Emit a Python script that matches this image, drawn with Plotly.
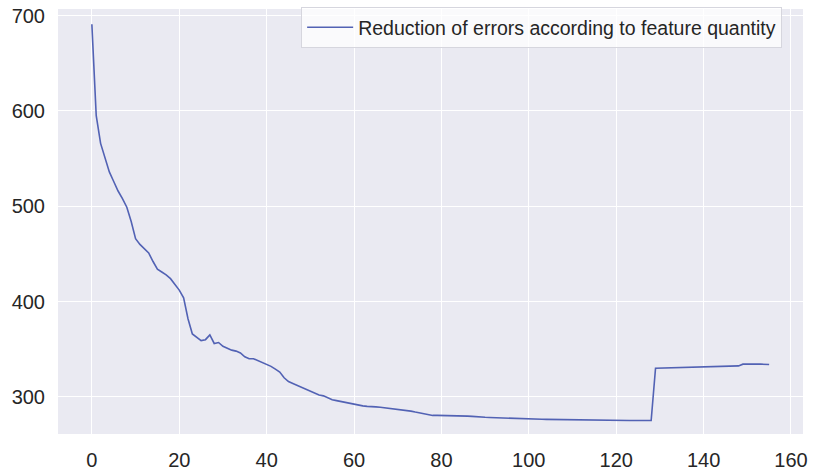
import plotly.graph_objects as go

feature_count = list(range(156))

errors = [
    691, 595, 566, 550, 536, 526, 516, 508, 499, 484,
    466, 460, 455, 451, 442, 434, 431, 428, 424, 418,
    412, 404, 382, 366, 362, 359, 360, 365, 356, 357,
    353, 351, 349, 348, 346, 342, 340, 340, 338, 336,
    334, 332, 329, 326, 320, 316, 314, 312, 310, 308,
    306, 304, 302, 301, 299, 297, 296, 295, 294, 293,
    292, 291, 290.5, 290, 290, 289.5, 289, 288.5, 288, 287.5,
    287, 286, 285.5, 285, 284, 283, 282, 281, 280.5, 280.5,
    280.5, 280.5, 280.3, 280.2, 280, 280, 279.8, 279.5, 279, 278.7,
    278.5, 278.3, 278.1, 278, 277.8, 277.6, 277.5, 277.3, 277.2, 277,
    277, 276.8, 276.7, 276.5, 276.4, 276.3, 276.2, 276, 276, 275.9,
    275.8, 275.7, 275.6, 275.5, 275.4, 275.3, 275.2, 275.2, 275.2, 275.2,
    275.2, 275.2, 275.2, 275.2, 275.2, 275.2, 275.2, 275.2, 275.2, 330,
    330.1, 330.2, 330.3, 330.4, 330.5, 330.6, 330.7, 330.8, 330.9, 331,
    331.1, 331.2, 331.3, 331.4, 331.5, 331.6, 331.7, 331.7, 332.5, 334.3,
    334.5, 334.5, 334.4, 334.3, 334.2, 334.0,
]

series_name = "Reduction of errors according to feature quantity"
x_ticks = [0, 20, 40, 60, 80, 100, 120, 140, 160]
y_ticks = [300, 400, 500, 600, 700]

font_family = "Liberation Sans, Arial, sans-serif"
text_color = "#262626"

fig = go.Figure()
fig.add_trace(go.Scatter(
    x=feature_count, y=errors, mode="lines", name=series_name,
    line=dict(color="#5262b4", width=1.6),
))

fig.update_layout(
    width=814, height=475,
    margin=dict(l=58, r=11, t=8, b=41),
    paper_bgcolor="white",
    plot_bgcolor="#EAEAF2",
    font=dict(family=font_family, color=text_color, size=20),
    showlegend=True,
    legend=dict(
        x=0.972, y=1.002, xanchor="right", yanchor="top",
        bgcolor="rgba(255,255,255,0.75)",
        bordercolor="#d6d6de", borderwidth=1,
        itemwidth=46,
        font=dict(size=19.5, color=text_color),
    ),
    xaxis=dict(
        range=[-7.75, 162.75], tickvals=x_ticks, automargin=False,
        showgrid=True, gridcolor="white", gridwidth=1.2,
        zeroline=False, showline=False,
        ticks="outside", ticklen=8, tickcolor="rgba(0,0,0,0)",
        tickfont=dict(size=20, color=text_color),
    ),
    yaxis=dict(
        range=[261, 707], tickvals=y_ticks, automargin=False,
        showgrid=True, gridcolor="white", gridwidth=1.2,
        zeroline=False, showline=False,
        ticks="outside", ticklen=8, tickcolor="rgba(0,0,0,0)",
        ticklabeloverflow="allow",
        tickfont=dict(size=20, color=text_color),
    ),
)

fig.write_html(
    "out.html",
    config={"displayModeBar": False},
    post_script="document.body.style.margin='0';",
)
